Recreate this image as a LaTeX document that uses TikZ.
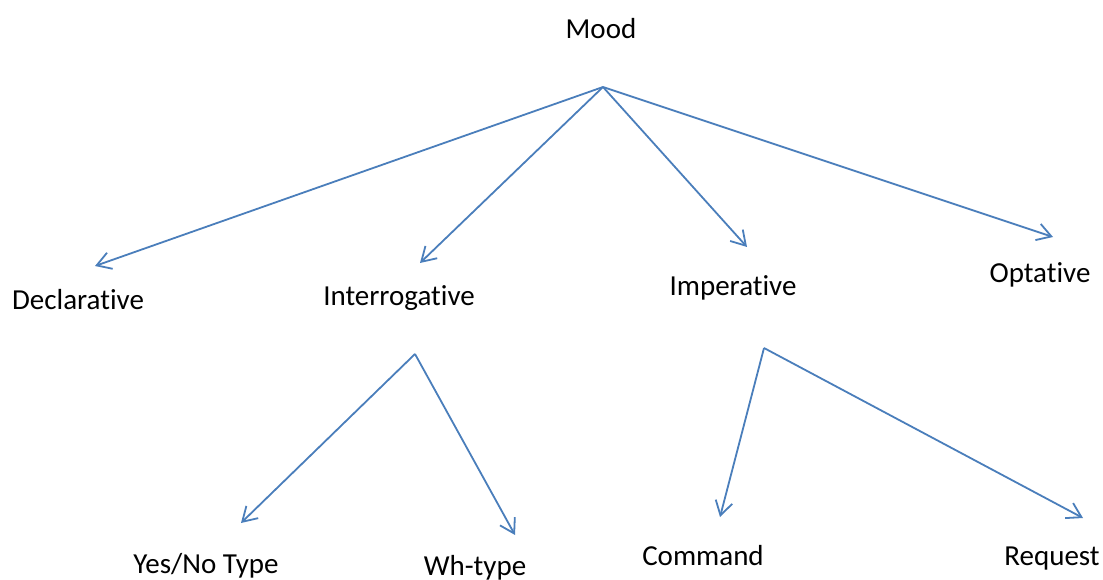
\documentclass[tikz,border=0pt]{standalone}
\usepackage{fontspec}
\setmainfont[Ligatures={NoCommon}]{Carlito}
\usetikzlibrary{arrows.meta}
\definecolor{lineblue}{HTML}{4A7EBB}
\tikzset{
  lbl/.style={inner sep=0pt, font=\fontsize{29}{34}\selectfont, anchor=center},
  conn/.style={draw=lineblue, line width=1.8pt, -{Straight Barb[length=14pt,width=17pt,line width=1.8pt]}}
}
\begin{document}
\begin{tikzpicture}[x=1pt,y=-1pt]
\useasboundingbox (0,0) rectangle (1103,580);
\node[lbl] (mood) at (601,29) {Mood};
\node[lbl] (decl) at (78,300) {Declarative};
\node[lbl] (interr) at (399,298) {Interrogative};
\node[lbl] (imper) at (733,288) {Imperative};
\node[lbl] (opt) at (1040,275) {Optative};
\node[lbl] (yesno) at (206,566) {Yes/No Type};
\node[lbl] (wh) at (475,568) {Wh-type};
\node[lbl] (cmd) at (703,556) {Command};
\node[lbl] (req) at (1052,559) {Request};
\coordinate (moodpt) at (603,87);
\coordinate (declpt) at (95,266);
\coordinate (interrpt) at (420,263);
\coordinate (imperpt) at (747,247);
\coordinate (optpt) at (1053,237);
\coordinate (interrsrc) at (415,354);
\coordinate (yesnopt) at (241,523);
\coordinate (whpt) at (515,535);
\coordinate (impersrc) at (764,348);
\coordinate (cmdpt) at (720,517);
\coordinate (reqpt) at (1083,518);
\draw[conn] (moodpt) -- (declpt);
\draw[conn] (moodpt) -- (interrpt);
\draw[conn] (moodpt) -- (imperpt);
\draw[conn] (moodpt) -- (optpt);
\draw[conn] (interrsrc) -- (yesnopt);
\draw[conn] (interrsrc) -- (whpt);
\draw[conn] (impersrc) -- (cmdpt);
\draw[conn] (impersrc) -- (reqpt);
\end{tikzpicture}
\end{document}
